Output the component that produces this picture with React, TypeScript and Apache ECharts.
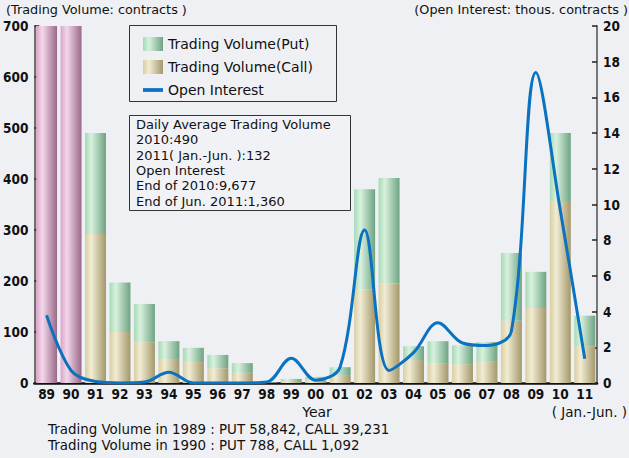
import React, { useEffect, useRef } from "react";
import * as echarts from "echarts";

const years = ["89","90","91","92","93","94","95","96","97","98","99","00","01","02","03","04","05","06","07","08","09","10","11"];
// Pre-1991 totals (contracts), drawn off-scale
const earlyTotal = [98073, 1880, "-", "-", "-", "-", "-", "-", "-", "-", "-", "-", "-", "-", "-", "-", "-", "-", "-", "-", "-", "-", "-"];
const callVolume = ["-", "-", 292, 100, 80, 47, 41, 29, 20, 1, 2, 5, 14, 184, 195, 45, 39, 37, 43, 122, 147, 357, 72];
const putVolume = ["-", "-", 198, 97, 75, 35, 28, 26, 19, 1, 6, 7, 17, 196, 207, 27, 43, 37, 37, 133, 71, 133, 60];
const openInterest = [3.8, 0.7, 0.08, 0.0, 0.05, 0.6, 0.0, 0.0, 0.0, 0.05, 1.38, 0.15, 0.9, 8.57, 0.7, 1.7, 3.38, 2.24, 2.1, 2.9, 17.4, 9.677, 1.36];
const leftTicks = { min: 0, max: 700, interval: 100 };
const rightTicks = { min: 0, max: 20, interval: 2 };

const noteLines = [
  "Daily Average Trading Volume",
  "2010:490",
  "2011( Jan.-Jun. ):132",
  "Open Interest",
  "End of 2010:9,677",
  "End of Jun. 2011:1,360",
];
const footLines = [
  "Trading Volume in 1989 : PUT 58,842, CALL 39,231",
  "Trading Volume in 1990 : PUT 788, CALL 1,092",
];

function grad(l: string, h: string, r: string) {
  return new echarts.graphic.LinearGradient(0, 0, 1, 0, [
    { offset: 0, color: l },
    { offset: 0.3, color: h },
    { offset: 1, color: r },
  ]);
}

const TXT = "'DejaVu Sans', 'Liberation Sans', sans-serif";
const NUM = "'DejaVu Sans Condensed', 'Liberation Sans Narrow', sans-serif";

export default function App() {
  const ref = useRef<HTMLDivElement>(null);
  useEffect(() => {
    if (!ref.current) return;
    const chart = echarts.init(ref.current, null, { renderer: "svg" });
    const putColor = grad("#a6d9b5", "#d8f1de", "#6ea382");
    const callColor = grad("#d8cea2", "#f1ecd4", "#a3986a");
    const pinkColor = grad("#d9a2c6", "#f3d8ea", "#9a6889");
    const numLabel = { fontFamily: NUM, fontWeight: "bold", fontSize: 13.5, color: "#111", margin: 6 };
    chart.setOption({
      animation: false,
      backgroundColor: "#eff0f4",
      grid: { left: 34, right: 32, top: 26, bottom: 75 },
      legend: {
        orient: "vertical",
        left: 138,
        top: 32,
        itemWidth: 20,
        itemHeight: 14,
        itemGap: 9,
        textStyle: { fontFamily: TXT, fontSize: 14, color: "#111" },
        data: [
          { name: "Trading Volume(Put)", icon: "rect" },
          { name: "Trading Volume(Call)", icon: "rect" },
          { name: "Open Interest", icon: "path://M0,0H16V3H0Z" },
        ],
      },
      xAxis: {
        type: "category",
        data: years,
        axisLine: { lineStyle: { color: "#111", width: 2.5 } },
        axisTick: { show: false },
        axisLabel: { ...numLabel, interval: 0, margin: 4 },
      },
      yAxis: [
        {
          type: "value",
          ...leftTicks,
          axisLine: { show: true, lineStyle: { color: "#444", width: 1.5 } },
          axisTick: { show: true, inside: true, length: 5, lineStyle: { color: "#222", width: 1.5 } },
          splitLine: { show: false },
          axisLabel: numLabel,
        },
        {
          type: "value",
          ...rightTicks,
          position: "right",
          axisLine: { show: true, lineStyle: { color: "#777", width: 2 } },
          axisTick: { show: true, inside: true, length: 5, lineStyle: { color: "#222", width: 1.5 } },
          splitLine: { show: false },
          axisLabel: numLabel,
        },
      ],
      series: [
        {
          name: "Early",
          type: "bar",
          stack: "v",
          clip: true,
          barWidth: 21,
          data: earlyTotal,
          itemStyle: { color: pinkColor },
        },
        {
          name: "Trading Volume(Call)",
          type: "bar",
          stack: "v",
          barWidth: 21,
          data: callVolume,
          itemStyle: { color: callColor },
        },
        {
          name: "Trading Volume(Put)",
          type: "bar",
          stack: "v",
          barWidth: 21,
          data: putVolume,
          itemStyle: { color: putColor },
        },
        {
          name: "Open Interest",
          type: "line",
          yAxisIndex: 1,
          smooth: 0.35,
          symbol: "none",
          data: openInterest,
          lineStyle: { color: "#0b72c0", width: 3 },
          itemStyle: { color: "#0b72c0" },
          z: 5,
        },
      ],
      graphic: [
        {
          type: "rect",
          shape: { x: 129.5, y: 25.5, width: 207, height: 76 },
          style: { fill: "none", stroke: "#333", lineWidth: 1 },
          z: 1,
        },
        {
          type: "rect",
          shape: { x: 129.5, y: 115.5, width: 221, height: 95 },
          style: { fill: "#f1f2f5", stroke: "#333", lineWidth: 1 },
          z: 1,
        },
        ...noteLines.map((t, i) => ({
          type: "text",
          x: 136,
          y: 118 + i * 15.3,
          style: { text: t, fontFamily: TXT, fontSize: 13, fill: "#111" },
          z: 2,
        })),
        {
          type: "text",
          x: 6,
          y: 3,
          style: { text: "(Trading Volume: contracts )", fontFamily: TXT, fontSize: 12.8, fill: "#111" },
        },
        {
          type: "text",
          x: 628,
          y: 3,
          style: { text: "(Open Interest: thous. contracts )", fontFamily: TXT, fontSize: 12.8, fill: "#111", textAlign: "right" },
        },
        {
          type: "text",
          x: 317,
          y: 405,
          style: { text: "Year", fontFamily: TXT, fontSize: 14, fill: "#111", textAlign: "center" },
        },
        {
          type: "text",
          x: 627,
          y: 405,
          style: { text: "( Jan.-Jun. )", fontFamily: TXT, fontSize: 13.5, fill: "#111", textAlign: "right" },
        },
        ...footLines.map((t, i) => ({
          type: "text",
          x: 48,
          y: 423 + i * 16,
          style: { text: t, fontFamily: TXT, fontSize: 13.4, fill: "#111" },
        })),
      ],
    });
    return () => chart.dispose();
  }, []);
  return (
    <div
      ref={ref}
      style={{ position: "fixed", left: 0, top: 0, width: 629, height: 458 }}
    />
  );
}
